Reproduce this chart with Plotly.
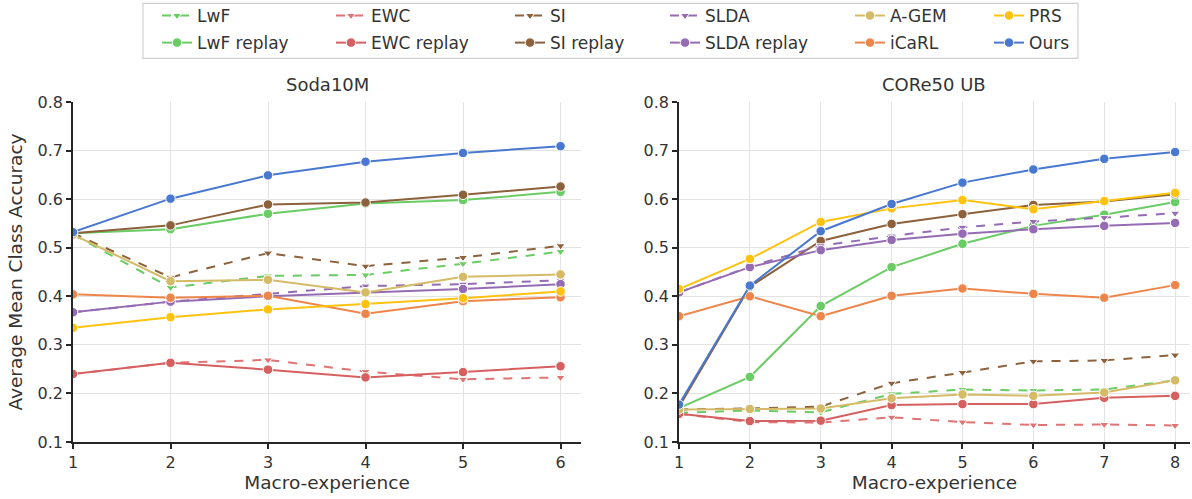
import plotly.graph_objects as go
from plotly.subplots import make_subplots

# ---------------- data ----------------
soda_x = [1, 2, 3, 4, 5, 6]
core_x = [1, 2, 3, 4, 5, 6, 7, 8]

soda_lwf = [0.527, 0.418, 0.442, 0.444, 0.467, 0.492]
soda_lwf_replay = [0.530, 0.538, 0.570, 0.591, 0.598, 0.615]
soda_ewc = [0.240, 0.263, 0.269, 0.245, 0.229, 0.233]
soda_ewc_replay = [0.240, 0.263, 0.249, 0.233, 0.244, 0.256]
soda_si = [0.530, 0.439, 0.489, 0.462, 0.480, 0.504]
soda_si_replay = [0.530, 0.546, 0.589, 0.593, 0.609, 0.626]
soda_slda = [0.367, 0.389, 0.405, 0.421, 0.425, 0.433]
soda_slda_replay = [0.367, 0.389, 0.400, 0.408, 0.415, 0.425]
soda_agem = [0.527, 0.431, 0.434, 0.408, 0.440, 0.445]
soda_icarl = [0.404, 0.397, 0.401, 0.364, 0.390, 0.398]
soda_prs = [0.335, 0.357, 0.373, 0.384, 0.396, 0.410]
soda_ours = [0.532, 0.601, 0.649, 0.677, 0.695, 0.709]

core_lwf = [0.160, 0.165, 0.161, 0.199, 0.208, 0.206, 0.208, 0.227]
core_lwf_replay = [0.170, 0.234, 0.380, 0.460, 0.508, 0.545, 0.568, 0.594]
core_ewc = [0.158, 0.141, 0.140, 0.151, 0.141, 0.135, 0.136, 0.134]
core_ewc_replay = [0.158, 0.143, 0.144, 0.176, 0.178, 0.178, 0.191, 0.195]
core_si = [0.167, 0.169, 0.173, 0.221, 0.243, 0.266, 0.268, 0.279]
core_si_replay = [0.172, 0.420, 0.514, 0.549, 0.569, 0.588, 0.595, 0.610]
core_slda = [0.408, 0.461, 0.504, 0.524, 0.542, 0.554, 0.562, 0.571]
core_slda_replay = [0.408, 0.460, 0.495, 0.516, 0.529, 0.538, 0.545, 0.551]
core_agem = [0.167, 0.168, 0.169, 0.190, 0.198, 0.195, 0.202, 0.227]
core_icarl = [0.359, 0.400, 0.359, 0.401, 0.416, 0.405, 0.397, 0.423]
core_prs = [0.415, 0.477, 0.553, 0.581, 0.598, 0.579, 0.596, 0.613]
core_ours = [0.177, 0.422, 0.534, 0.590, 0.634, 0.661, 0.683, 0.697]

y_ticks = [0.1, 0.2, 0.3, 0.4, 0.5, 0.6, 0.7, 0.8]

# name, soda, core, color, dashed, legend column
methods = [
    ("LwF", soda_lwf, core_lwf, "#6acc64", True, "legend"),
    ("LwF replay", soda_lwf_replay, core_lwf_replay, "#6acc64", False, "legend"),
    ("EWC", soda_ewc, core_ewc, "#e07373", True, "legend2"),
    ("EWC replay", soda_ewc_replay, core_ewc_replay, "#d65f5f", False, "legend2"),
    ("SI", soda_si, core_si, "#8c613c", True, "legend3"),
    ("SI replay", soda_si_replay, core_si_replay, "#8c613c", False, "legend3"),
    ("SLDA", soda_slda, core_slda, "#956cb4", True, "legend4"),
    ("SLDA replay", soda_slda_replay, core_slda_replay, "#956cb4", False, "legend4"),
    ("A-GEM", soda_agem, core_agem, "#d5bb67", False, "legend5"),
    ("iCaRL", soda_icarl, core_icarl, "#ee854a", False, "legend5"),
    ("PRS", soda_prs, core_prs, "#ffc20e", False, "legend6"),
    ("Ours", soda_ours, core_ours, "#4878d0", False, "legend6"),
]

FONT = "DejaVu Sans"
TXT = "#333333"

fig = make_subplots(rows=1, cols=2, horizontal_spacing=0.0875)

for name, s_vals, c_vals, color, dashed, leg in methods:
    for col, xs, ys in ((1, soda_x, s_vals), (2, core_x, c_vals)):
        fig.add_trace(
            go.Scatter(
                x=xs, y=ys, name=name, mode="lines+markers",
                line=dict(color=color, width=2, dash="dash" if dashed else "solid"),
                marker=dict(
                    symbol="triangle-down" if dashed else "circle",
                    size=8 if dashed else 9.5, color=color,
                    line=dict(color="white", width=1),
                ),
                legendgroup=name, showlegend=(col == 1), legend=leg,
            ),
            row=1, col=col,
        )

axis_common = dict(
    showline=True, linecolor="#262626", linewidth=1.5,
    ticks="outside", ticklen=5, tickwidth=1.5, tickcolor="#262626",
    showgrid=True, gridcolor="#e3e3e3", gridwidth=1.2, automargin=False,
    zeroline=False, tickfont=dict(family=FONT, size=16, color=TXT),
)

TITLE_FONT = dict(family=FONT, size=18.5, color=TXT)

fig.update_xaxes(axis_common)
fig.update_yaxes(axis_common)
fig.update_xaxes(range=[1, 6.21], tickvals=soda_x, row=1, col=1,
                 title=dict(text="Macro-experience", font=TITLE_FONT, standoff=5))
fig.update_xaxes(range=[1, 8.21], tickvals=core_x, row=1, col=2,
                 title=dict(text="Macro-experience", font=TITLE_FONT, standoff=5))
fig.update_yaxes(range=[0.1, 0.8], tickvals=y_ticks, tickformat=".1f")
fig.update_yaxes(row=1, col=1,
                 title=dict(text="Average Mean Class Accuracy", font=TITLE_FONT, standoff=10))
fig.update_xaxes(domain=[0, 0.4548], row=1, col=1)
fig.update_xaxes(domain=[0.5425, 1], row=1, col=2)

# subplot titles
for xc, txt in ((0.2274, "Soda10M"), (0.77125, "CORe50 UB")):
    fig.add_annotation(x=xc, y=1.052, xref="paper", yref="paper", text=txt,
                       showarrow=False, font=dict(family=FONT, size=18, color=TXT),
                       xanchor="center", yanchor="middle")

# legend columns
L, W = 73, 1117
text_starts = [197, 371, 550, 705, 890, 1029]
legend_keys = ["legend", "legend2", "legend3", "legend4", "legend5", "legend6"]
leg_common = dict(orientation="v", yanchor="top", xanchor="left", y=1.306,
                  bgcolor="rgba(0,0,0,0)", borderwidth=0,
                  font=dict(family=FONT, size=17, color=TXT),
                  traceorder="grouped", tracegroupgap=2, itemwidth=30)
layout_legs = {}
for k, ts in zip(legend_keys, text_starts):
    d = dict(leg_common)
    d["x"] = (ts - 40 - L) / W
    layout_legs[k] = d

fig.update_layout(**layout_legs)

# legend frame
fig.add_shape(type="rect", xref="paper", yref="paper",
              x0=(143 - L) / W, x1=(1078 - L) / W,
              y0=(441.7 - 58) / 340, y1=(441.7 - 3) / 340,
              line=dict(color="#d0d0d0", width=1.2), fillcolor="rgba(0,0,0,0)",
              layer="below")

fig.update_layout(
    width=1192, height=499,
    margin=dict(l=73, r=2, t=101.7, b=57.3, autoexpand=False),
    paper_bgcolor="white", plot_bgcolor="white",
    font=dict(family=FONT, color=TXT),
)

fig.write_html("out.html", config={"displayModeBar": False},
               post_script="document.body.style.margin='0';document.body.style.overflow='hidden';")
